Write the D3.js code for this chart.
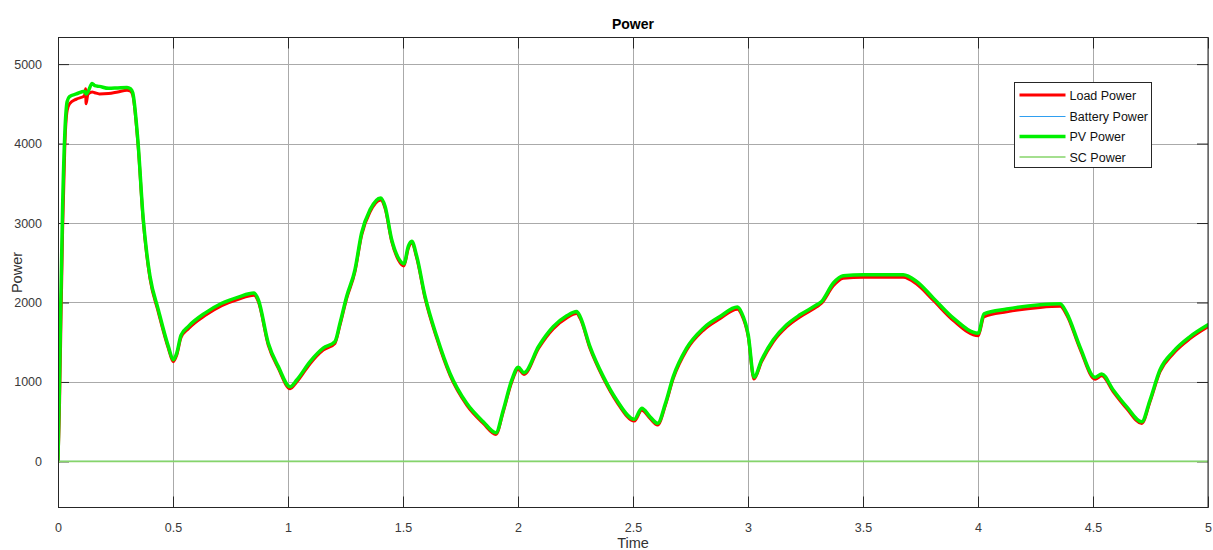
<!DOCTYPE html>
<html>
<head>
<meta charset="utf-8">
<script src="https://cdn.jsdelivr.net/npm/d3@7"></script>
<style>
  html, body { margin: 0; padding: 0; background: #fff; }
  svg { display: block; font-family: "Liberation Sans", Arial, Helvetica, sans-serif; }
</style>
</head>
<body>
<svg id="chart" width="1213" height="550"></svg>
<script>
// Simulation time (s) shared by the load and PV traces
const time = [
  0, 0.006, 0.012, 0.02, 0.03, 0.04, 0.05, 0.08, 0.115, 0.12, 0.122, 0.13, 0.148, 0.16, 0.18, 0.22, 0.26, 0.3, 0.315, 0.325,
  0.347, 0.371, 0.386, 0.4, 0.436, 0.48, 0.501, 0.516, 0.535, 0.567, 0.639, 0.712, 0.784, 0.852, 0.871, 0.914, 0.958,
  1.009, 1.038, 1.096, 1.153, 1.204, 1.226, 1.255, 1.291, 1.32, 1.357, 1.403, 1.422, 1.451, 1.48, 1.504, 1.523, 1.538,
  1.56, 1.596, 1.647, 1.704, 1.777, 1.849, 1.904, 1.936, 1.973, 2.001, 2.026, 2.09, 2.154, 2.212, 2.255, 2.27, 2.313,
  2.371, 2.429, 2.506, 2.538, 2.574, 2.607, 2.641, 2.675, 2.733, 2.806, 2.878, 2.954, 2.973, 3.001, 3.026, 3.059, 3.11,
  3.168, 3.226, 3.299, 3.32, 3.371, 3.414, 3.501, 3.675, 3.733, 3.806, 3.893, 4.001, 4.026, 4.125, 4.27, 4.357, 4.386,
  4.443, 4.509, 4.538, 4.588, 4.646, 4.712, 4.748, 4.791, 4.849, 4.922, 5.0
];

// PV array output power (W)
const pvPower = [
  0, 900, 2000, 3200, 4150, 4530, 4590, 4625, 4660, 4640, 4625, 4650, 4755, 4730, 4720, 4695, 4700, 4705, 4690, 4640,
  4050, 3040, 2620, 2330, 1910, 1445, 1280, 1360, 1590, 1700, 1866, 1990, 2068, 2118, 2034, 1490, 1193,
  940, 1025, 1256, 1425, 1508, 1740, 2076, 2412, 2875, 3169, 3316, 3211, 2790, 2560, 2488, 2706, 2770,
  2580, 2076, 1571, 1110, 731, 499, 361, 647, 1025, 1185, 1117, 1450, 1697, 1832, 1887, 1823, 1445,
  1067, 773, 530, 668, 562, 479, 731, 1067, 1425, 1677, 1823, 1942, 1866, 1593, 1059, 1277, 1530,
  1719, 1845, 1971, 2013, 2245, 2337, 2349, 2349, 2265, 2055, 1803, 1614, 1857, 1917, 1971, 1984, 1866,
  1445, 1059, 1101, 899, 689, 499, 773, 1151, 1382, 1571, 1719
];

// Load demand (W)
const loadPower = [
  0, 600, 1600, 2900, 4000, 4420, 4500, 4560, 4600, 4690, 4500, 4620, 4650, 4640, 4625, 4630, 4650, 4670, 4660, 4610,
  4020, 3010, 2590, 2300, 1880, 1420, 1255, 1335, 1560, 1670, 1835, 1960, 2040, 2090, 2010, 1465, 1170,
  915, 1000, 1230, 1400, 1485, 1715, 2050, 2385, 2845, 3140, 3290, 3185, 2765, 2535, 2460, 2680, 2745,
  2555, 2050, 1545, 1085, 708, 478, 340, 625, 1000, 1160, 1095, 1425, 1670, 1805, 1860, 1800, 1420,
  1045, 750, 508, 645, 540, 458, 708, 1042, 1400, 1650, 1795, 1915, 1842, 1570, 1036, 1252, 1505,
  1692, 1818, 1945, 1990, 2210, 2305, 2318, 2318, 2232, 2025, 1772, 1580, 1820, 1882, 1938, 1952, 1840,
  1420, 1035, 1078, 876, 666, 478, 750, 1126, 1356, 1545, 1694
];

// Battery and supercapacitor power stay at zero over the run
const batteryTime = [0, 5];
const batteryPower = [0, 0];
const scTime = [0, 5];
const scPower = [0, 0];

const xTicks = [0, 0.5, 1, 1.5, 2, 2.5, 3, 3.5, 4, 4.5, 5];
const yTicks = [0, 1000, 2000, 3000, 4000, 5000];
const seriesNames = ["Load Power", "Battery Power", "PV Power", "SC Power"];
const seriesColors = ["#ff0000", "#2f9ff0", "#00f000", "#86d46a"];
const seriesWidths = [3, 1, 3.5, 1.6];

const svg = d3.select("#chart");
const plot = { left: 58, top: 37.5, right: 1208, bottom: 507.5 };

const x = d3.scaleLinear().domain([0, 5]).range([plot.left, plot.right]);
const y = d3.scaleLinear().domain([-580, 5335]).range([plot.bottom, plot.top]);

svg.append("rect")
  .attr("x", plot.left).attr("y", plot.top)
  .attr("width", plot.right - plot.left).attr("height", plot.bottom - plot.top)
  .attr("fill", "#fff");

// Grid
const grid = svg.append("g").attr("stroke", "#aaaaaa").attr("stroke-width", 1);
grid.selectAll("line.gx").data(xTicks).join("line")
  .attr("x1", d => Math.round(x(d)) + 0.5).attr("x2", d => Math.round(x(d)) + 0.5)
  .attr("y1", plot.top).attr("y2", plot.bottom);
grid.selectAll("line.gy").data(yTicks).join("line")
  .attr("y1", d => Math.round(y(d)) + 0.5).attr("y2", d => Math.round(y(d)) + 0.5)
  .attr("x1", plot.left).attr("x2", plot.right);

// Axes with inward ticks
const tickLen = 11;
const axisColor = "#262626";
const fmt = d => String(d);
const xAxisB = d3.axisBottom(x).tickValues(xTicks).tickFormat(fmt).tickSizeInner(-tickLen).tickSizeOuter(0).tickPadding(tickLen + 5);
const xAxisT = d3.axisTop(x).tickValues(xTicks).tickSizeInner(-tickLen).tickSizeOuter(0).tickFormat("");
const yAxisL = d3.axisLeft(y).tickValues(yTicks).tickFormat(fmt).tickSizeInner(-tickLen).tickSizeOuter(0).tickPadding(tickLen + 5);
const yAxisR = d3.axisRight(y).tickValues(yTicks).tickSizeInner(-tickLen).tickSizeOuter(0).tickFormat("");

function styleAxis(g) {
  g.select(".domain").remove();
  g.selectAll(".tick line").attr("stroke", axisColor);
  g.selectAll(".tick text").attr("fill", "#3a3a3a").attr("font-size", 12.5);
}
svg.append("g").attr("transform", `translate(0,${plot.bottom})`).call(xAxisB).call(styleAxis);
svg.append("g").attr("transform", `translate(0,${plot.top})`).call(xAxisT).call(styleAxis);
svg.append("g").attr("transform", `translate(${plot.left},0)`).call(yAxisL).call(styleAxis);
svg.append("g").attr("transform", `translate(${plot.right},0)`).call(yAxisR).call(styleAxis);

// Series
svg.append("clipPath").attr("id", "clip").append("rect")
  .attr("x", plot.left).attr("y", plot.top)
  .attr("width", plot.right - plot.left).attr("height", plot.bottom - plot.top);

const line = d3.line().x(d => x(d[0])).y(d => y(d[1])).curve(d3.curveMonotoneX);
const series = [
  d3.zip(time, loadPower),
  d3.zip(batteryTime, batteryPower),
  d3.zip(time, pvPower),
  d3.zip(scTime, scPower)
];
const lines = svg.append("g").attr("clip-path", "url(#clip)");
series.forEach((s, i) => {
  lines.append("path")
    .attr("d", line(s))
    .attr("fill", "none")
    .attr("stroke", seriesColors[i])
    .attr("stroke-width", seriesWidths[i])
    .attr("stroke-linejoin", "round")
    .attr("stroke-linecap", "round");
});

// Box
svg.append("rect")
  .attr("x", plot.left + 0.5).attr("y", plot.top)
  .attr("width", plot.right - plot.left - 0.5).attr("height", plot.bottom - plot.top)
  .attr("fill", "none").attr("stroke", axisColor).attr("stroke-width", 1);

// Titles
svg.append("text").attr("x", (plot.left + plot.right) / 2).attr("y", 29)
  .attr("text-anchor", "middle").attr("font-size", 14).attr("font-weight", "bold").attr("fill", "#000")
  .text("Power");
svg.append("text").attr("x", (plot.left + plot.right) / 2).attr("y", 548)
  .attr("text-anchor", "middle").attr("font-size", 14.5).attr("fill", "#333")
  .text("Time");
svg.append("text").attr("transform", `translate(22,${(plot.top + plot.bottom) / 2}) rotate(-90)`)
  .attr("text-anchor", "middle").attr("font-size", 14.5).attr("fill", "#333")
  .text("Power");

// Legend
const lg = svg.append("g").attr("transform", "translate(1014.5,82.5)");
lg.append("rect").attr("width", 137).attr("height", 85)
  .attr("fill", "#fff").attr("stroke", axisColor).attr("stroke-width", 1);
const rowY = [12.5, 34, 54, 74.5];
seriesNames.forEach((name, i) => {
  lg.append("line").attr("x1", 5).attr("x2", 51).attr("y1", rowY[i]).attr("y2", rowY[i])
    .attr("stroke", seriesColors[i]).attr("stroke-width", seriesWidths[i]);
  lg.append("text").attr("x", 55).attr("y", rowY[i]).attr("dy", "0.36em")
    .attr("font-size", 12.5).attr("fill", "#111").text(name);
});
</script>
</body>
</html>
